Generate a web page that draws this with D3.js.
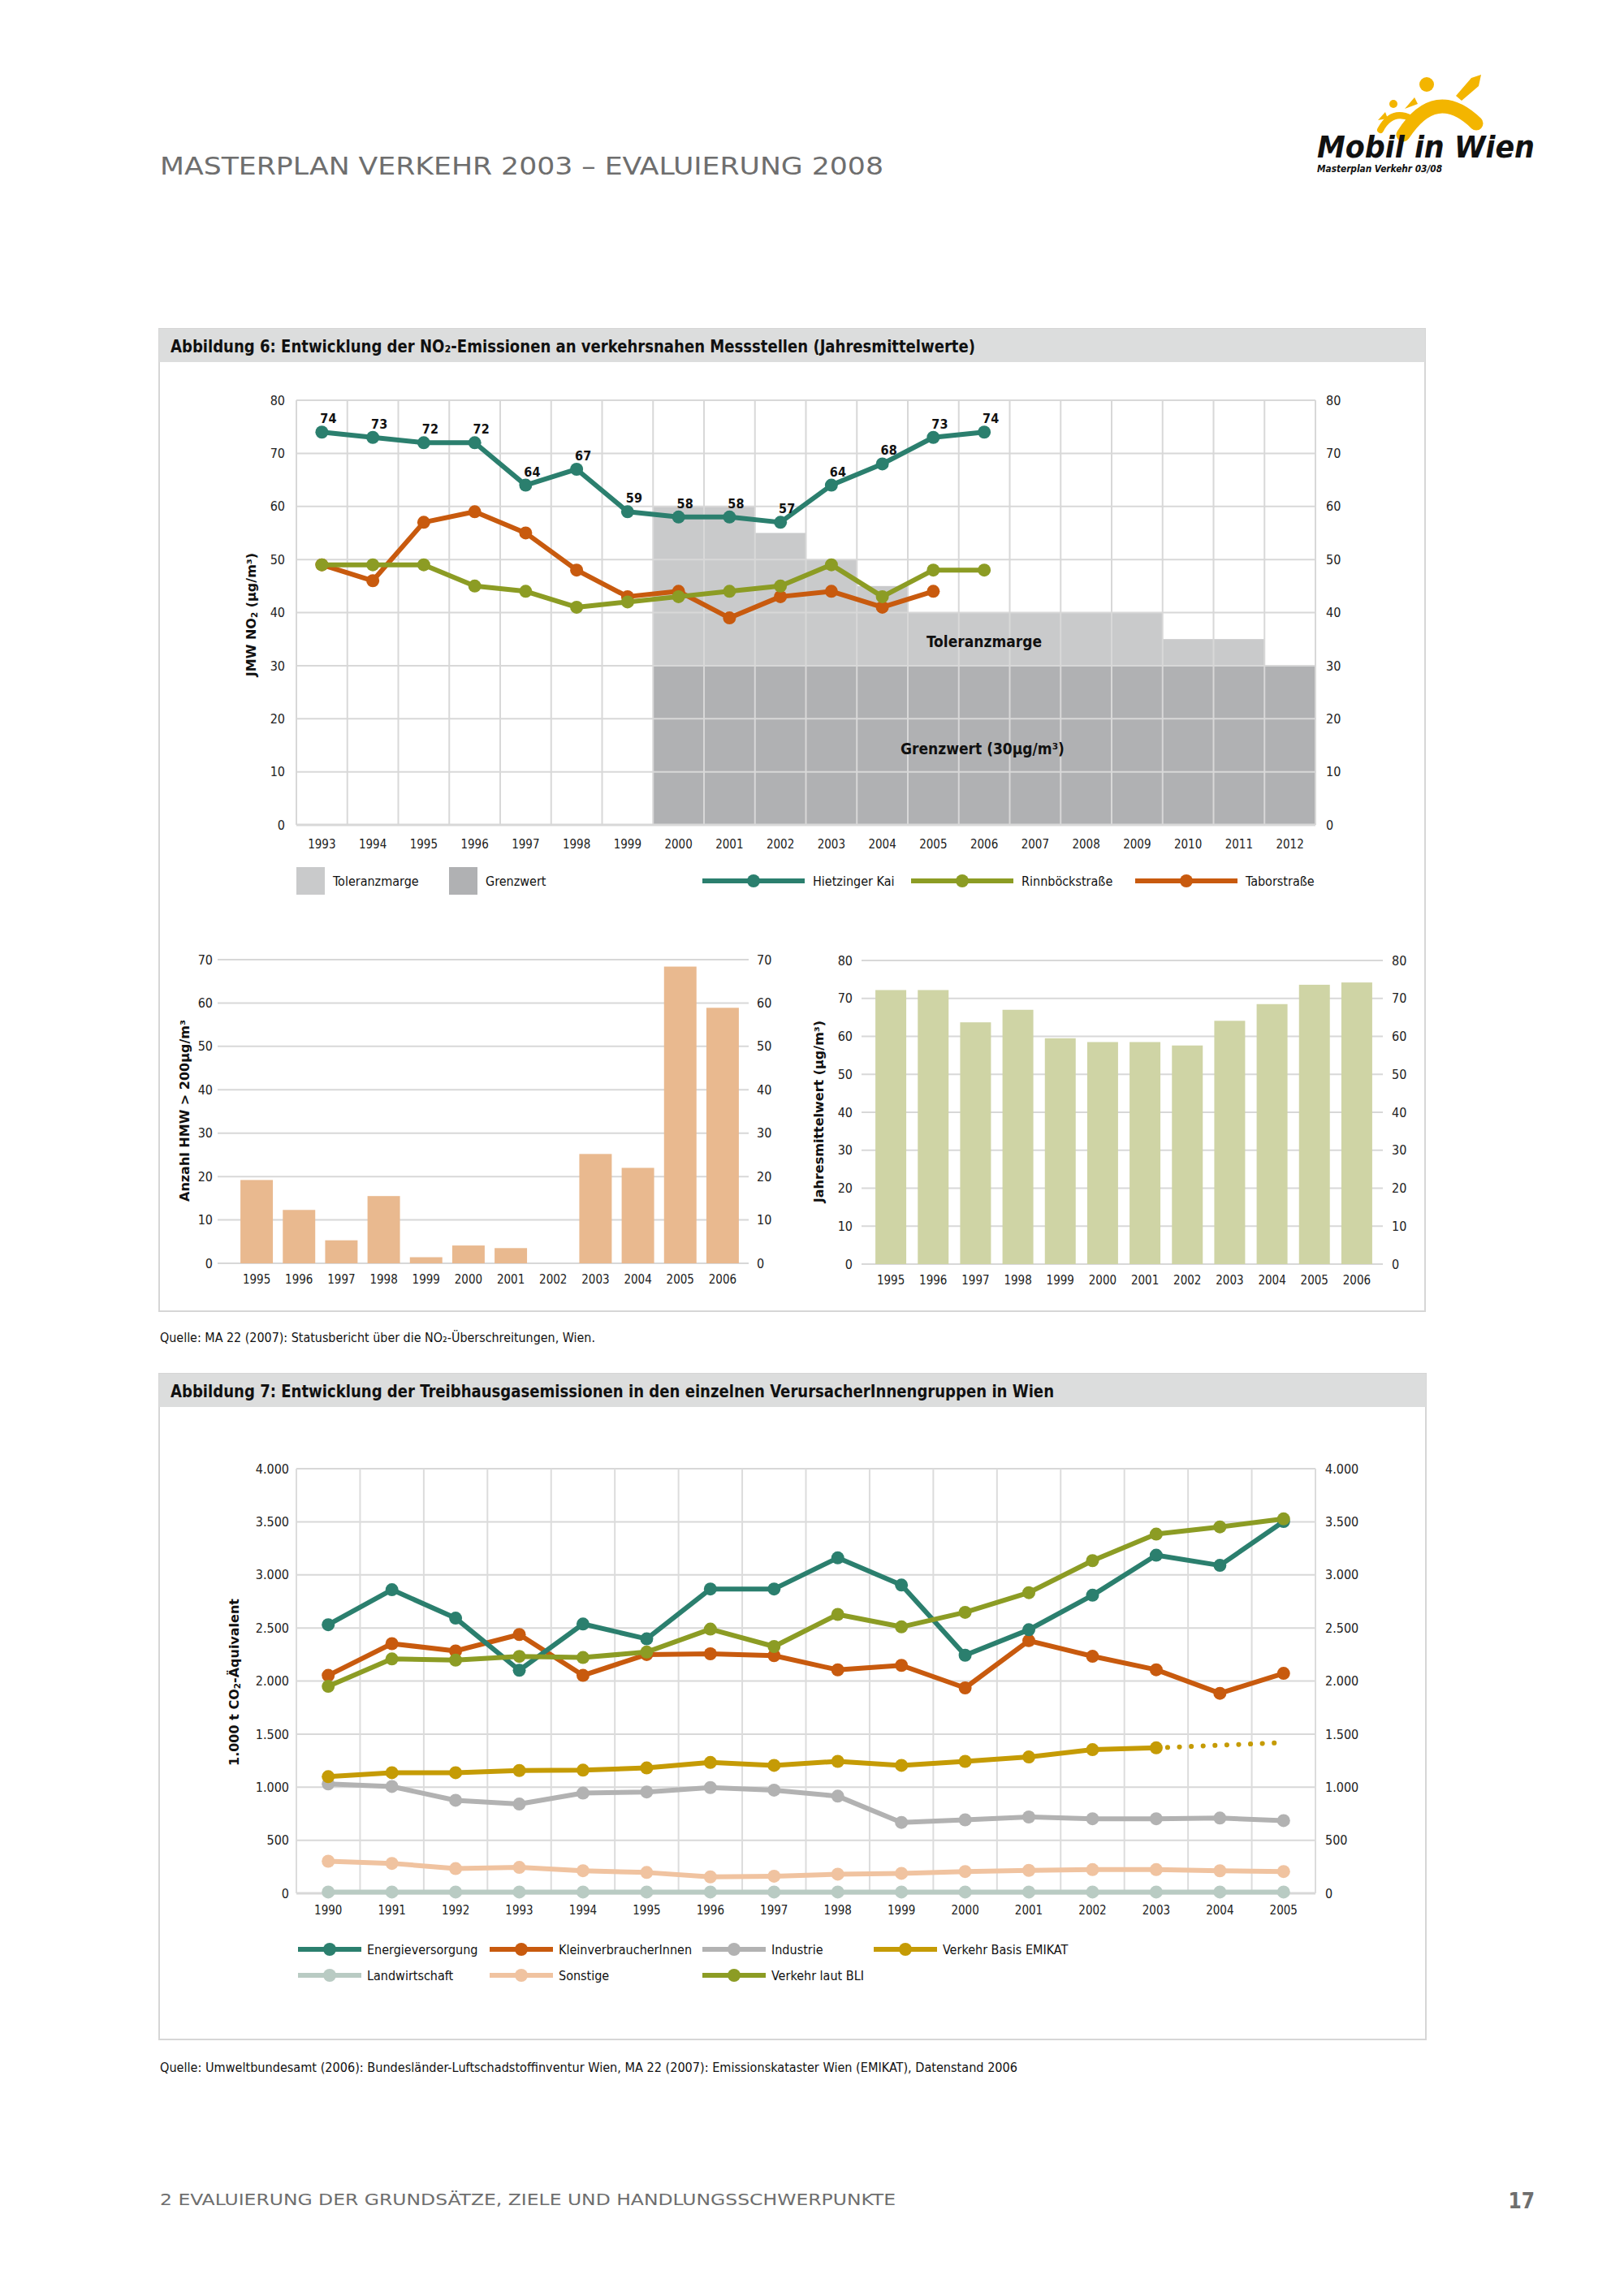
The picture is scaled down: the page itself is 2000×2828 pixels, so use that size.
<!DOCTYPE html>
<html><head><meta charset="utf-8">
<script src="https://cdn.jsdelivr.net/npm/d3@7"></script>
<style>body{margin:0;background:#fff;}</style>
</head><body>
<svg id="page" width="2000" height="2828" xmlns="http://www.w3.org/2000/svg"></svg>
<script>
// ---------------- DATA ----------------
const yearsNO2 = ['1993','1994','1995','1996','1997','1998','1999','2000','2001','2002','2003','2004','2005','2006','2007','2008','2009','2010','2011','2012'];
const stationYears = ['1993','1994','1995','1996','1997','1998','1999','2000','2001','2002','2003','2004','2005','2006'];
const hietzinger = [74,73,72,72,64,67,59,58,58,57,64,68,73,74];
const rinnboeck  = [49,49,49,45,44,41,42,43,44,45,49,43,48,48];
const tabor      = [49,46,57,59,55,48,43,44,39,43,44,41,44];
const limitYears = ['2000','2001','2002','2003','2004','2005','2006','2007','2008','2009','2010','2011','2012'];
const grenzwert  = [30,30,30,30,30,30,30,30,30,30,30,30,30];
const toleranzmarge = [30,30,25,20,15,10,10,10,10,10,5,5,0];
const ticksNO2 = [0,10,20,30,40,50,60,70,80];

const barYears = ['1995','1996','1997','1998','1999','2000','2001','2002','2003','2004','2005','2006'];
const anzahlHMW = [19.2,12.3,5.3,15.5,1.4,4.1,3.5,0,25.2,22,68.4,58.9];
const ticksHMW = [0,10,20,30,40,50,60,70];
const jahresmittel = [72.2,72.2,63.7,67,59.5,58.5,58.5,57.6,64.1,68.5,73.6,74.2];
const ticksJMW = [0,10,20,30,40,50,60,70,80];

const ghgYears = ['1990','1991','1992','1993','1994','1995','1996','1997','1998','1999','2000','2001','2002','2003','2004','2005'];
const energie   = [2530,2860,2592,2101,2537,2397,2867,2867,3160,2904,2243,2483,2808,3185,3089,3503];
const klein     = [2053,2352,2283,2438,2053,2249,2256,2239,2105,2147,1935,2380,2233,2106,1884,2072];
const industrie = [1030,1006,876,841,944,955,996,972,915,668,692,719,702,702,709,685];
const emikat    = [1099,1136,1136,1157,1160,1181,1233,1205,1243,1205,1243,1284,1353,1370];
const emikatProgYears = ['2003','2005'];
const emikatProg = [1370,1420];
const landwirtschaft = [12,12,12,12,12,12,12,12,12,12,12,12,12,12,12,12];
const sonstige  = [302,282,233,244,213,196,155,161,180,188,205,216,223,223,212,205];
const bli       = [1950,2208,2197,2232,2221,2273,2489,2325,2627,2510,2647,2832,3134,3384,3452,3527];
const ticksGHG = [0,500,1000,1500,2000,2500,3000,3500,4000];

// ---------------- STYLE ----------------
const FONT = '"Liberation Sans Narrow","DejaVu Sans Condensed","Roboto Condensed",sans-serif';
const FONT_WIDE = '"DejaVu Sans","Verdana",sans-serif';
const C = {teal:'#2b7f6e', olive:'#8c9c24', orange:'#c85a0e', gold:'#c59b05', gray:'#b2b2b2',
  peach:'#f0c3a0', agri:'#b9cbc3', tol:'#c9cacb', gw:'#b0b1b3', grid:'#dadada', titleBar:'#dcdddd',
  bar1:'#e9b98f', bar2:'#cfd4a5', text:'#1a1a1a'};

const svg = d3.select('#page');
svg.append('rect').attr('width',2000).attr('height',2828).attr('fill','#fff');

// rich text helper: parts [{t, sub}]
function addParts(t, parts, size, shift){
  let pending = 0;
  parts.forEach(p=>{
    const s = t.append('tspan').text(p.t);
    if(p.sub){ s.attr('font-size',size*0.65).attr('dy',shift + pending); pending = -shift; }
    else if(pending){ s.attr('dy',pending); pending = 0; }
  });
}

// ---------------- HEADER / FOOTER ----------------
svg.append('text').attr('x',197).attr('y',215).attr('font-family',FONT).attr('font-size',30)
  .attr('fill','#6e6e6e').attr('textLength',891).attr('lengthAdjust','spacingAndGlyphs')
  .text('MASTERPLAN VERKEHR 2003 – EVALUIERUNG 2008');

// logo
const logo = svg.append('g');
const Y = '#f3b500';
logo.append('path').attr('d','M1728,166 Q1768,104 1818,152').attr('fill','none').attr('stroke',Y).attr('stroke-width',17).attr('stroke-linecap','round');
logo.append('circle').attr('cx',1757).attr('cy',104).attr('r',9).attr('fill',Y);
logo.append('path').attr('d','M1793,118 L1812,96 L1824,92 L1821,106 L1800,124 Z').attr('fill',Y);
logo.append('path').attr('d','M1700,160 Q1714,134 1738,146').attr('fill','none').attr('stroke',Y).attr('stroke-width',8).attr('stroke-linecap','round');
logo.append('circle').attr('cx',1716).attr('cy',128).attr('r',5).attr('fill',Y);
logo.append('path').attr('d','M1730,134 L1742,120 L1746,128 Z').attr('fill',Y);
logo.append('path').attr('d','M1697,148 L1706,138 L1709,146 Z').attr('fill',Y);
logo.append('text').attr('x',1622).attr('y',194).attr('font-family',FONT).attr('font-size',38)
  .attr('font-weight','bold').attr('font-style','italic').attr('fill','#111')
  .attr('textLength',268).attr('lengthAdjust','spacingAndGlyphs').text('Mobil in Wien');
logo.append('text').attr('x',1622).attr('y',212).attr('font-family',FONT).attr('font-size',12)
  .attr('font-weight','bold').attr('font-style','italic').attr('fill','#111')
  .attr('textLength',154).attr('lengthAdjust','spacingAndGlyphs').text('Masterplan Verkehr 03/08');

svg.append('text').attr('x',197).attr('y',2716).attr('font-family',FONT).attr('font-size',20)
  .attr('fill','#6e6e6e').attr('textLength',906).attr('lengthAdjust','spacingAndGlyphs')
  .text('2 EVALUIERUNG DER GRUNDSÄTZE, ZIELE UND HANDLUNGSSCHWERPUNKTE');
svg.append('text').attr('x',1890).attr('y',2720).attr('text-anchor','end').attr('font-family',FONT)
  .attr('font-size',26).attr('font-weight','bold').attr('fill','#6e6e6e').text('17');

// ---------------- helpers ----------------
function frame(x0,y0,x1,y1,title,titleLen){
  svg.append('rect').attr('x',x0).attr('y',y0).attr('width',x1-x0).attr('height',y1-y0)
    .attr('fill','#fff').attr('stroke','#d6d6d6').attr('stroke-width',2);
  svg.append('rect').attr('x',x0).attr('y',y0).attr('width',x1-x0).attr('height',41).attr('fill',C.titleBar);
  svg.append('text').attr('x',210).attr('y',y0+29).attr('font-family',FONT).attr('font-size',22)
    .attr('font-weight','bold').attr('fill','#111').attr('textLength',titleLen).attr('lengthAdjust','spacingAndGlyphs')
    .text(title);
}
function yTitle(x,y,parts,size){
  const t = svg.append('text').attr('transform',`translate(${x},${y}) rotate(-90)`).attr('text-anchor','middle')
    .attr('dominant-baseline','middle').attr('font-family',FONT_WIDE).attr('font-weight','bold')
    .attr('font-size',size).attr('fill','#111');
  addParts(t,parts,size,4);
}
function styleAxis(g,size){
  g.select('.domain').remove();
  g.attr('font-family',FONT).attr('font-size',size);
  g.selectAll('text').attr('fill','#222');
}

// ================= ABBILDUNG 6 =================
frame(196,405,1755,1615,'Abbildung 6: Entwicklung der NO₂-Emissionen an verkehrsnahen Messstellen (Jahresmittelwerte)',991);

const x1 = d3.scaleBand().domain(yearsNO2).range([365,1620]);
const y1 = d3.scaleLinear().domain([0,80]).range([1016,493]);
const g1 = svg.append('g');

g1.selectAll('rect.gw').data(limitYears).join('rect').attr('class','gw')
  .attr('x',d=>x1(d)).attr('width',x1.bandwidth())
  .attr('y',(d,i)=>y1(grenzwert[i])).attr('height',(d,i)=>y1(0)-y1(grenzwert[i])).attr('fill',C.gw);
g1.selectAll('rect.tm').data(limitYears).join('rect').attr('class','tm')
  .attr('x',d=>x1(d)).attr('width',x1.bandwidth())
  .attr('y',(d,i)=>y1(grenzwert[i]+toleranzmarge[i])).attr('height',(d,i)=>y1(grenzwert[i])-y1(grenzwert[i]+toleranzmarge[i])).attr('fill',C.tol);

// grid
g1.selectAll('line.h').data(ticksNO2).join('line').attr('class','h')
  .attr('x1',365).attr('x2',1620).attr('y1',d=>y1(d)).attr('y2',d=>y1(d))
  .attr('stroke','#d8d8d8').attr('stroke-width',d=>d===0?3:2);
const vb = yearsNO2.map(d=>x1(d)).concat([x1.range()[1]]);
g1.selectAll('line.v').data(vb).join('line').attr('class','v')
  .attr('x1',d=>d).attr('x2',d=>d).attr('y1',y1(80)).attr('y2',y1(0))
  .attr('stroke','#d8d8d8').attr('stroke-width',2);

styleAxis(g1.append('g').attr('transform','translate(351,0)').call(d3.axisLeft(y1).tickValues(ticksNO2).tickSize(0).tickPadding(0)),16);
styleAxis(g1.append('g').attr('transform','translate(1633,0)').call(d3.axisRight(y1).tickValues(ticksNO2).tickSize(0).tickPadding(0)),16);
styleAxis(g1.append('g').attr('transform',`translate(0,${y1(0)})`).call(d3.axisBottom(x1).tickSize(0).tickPadding(18)),15);

g1.append('text').attr('x',1212).attr('y',797).attr('text-anchor','middle').attr('font-family',FONT)
  .attr('font-size',19).attr('font-weight','bold').attr('fill','#111').text('Toleranzmarge');
g1.append('text').attr('x',1210).attr('y',929).attr('text-anchor','middle').attr('font-family',FONT)
  .attr('font-size',19).attr('font-weight','bold').attr('fill','#111').text('Grenzwert (30µg/m³)');

const cx1 = d=>x1(d)+x1.bandwidth()/2;
const line1 = d3.line().x(d=>cx1(d[0])).y(d=>y1(d[1]));
function station(vals,color){
  const pts = vals.map((v,i)=>[stationYears[i],v]);
  g1.append('path').datum(pts).attr('d',line1).attr('fill','none').attr('stroke',color)
    .attr('stroke-width',6).attr('stroke-linejoin','round');
  g1.append('g').selectAll('circle').data(pts).join('circle').attr('cx',d=>cx1(d[0])).attr('cy',d=>y1(d[1]))
    .attr('r',8).attr('fill',color);
  return pts;
}
const hPts = station(hietzinger,C.teal);
station(tabor,C.orange);
station(rinnboeck,C.olive);
g1.append('g').selectAll('text').data(hPts).join('text').attr('x',d=>cx1(d[0])+8).attr('y',d=>y1(d[1])-11)
  .attr('text-anchor','middle').attr('font-family',FONT).attr('font-size',16).attr('font-weight','bold')
  .attr('fill','#111').text(d=>d[1]);

// legend 1
const leg1 = svg.append('g').attr('font-family',FONT).attr('font-size',16).attr('fill','#111');
[[365,C.tol,'Toleranzmarge'],[553,C.gw,'Grenzwert']].forEach(([x,c,t])=>{
  leg1.append('rect').attr('x',x).attr('y',1068).attr('width',35).attr('height',34).attr('fill',c);
  leg1.append('text').attr('x',x+45).attr('y',1091).text(t);
});
[[865,C.teal,'Hietzinger Kai'],[1122,C.olive,'Rinnböckstraße'],[1398,C.orange,'Taborstraße']].forEach(([x,c,t])=>{
  leg1.append('line').attr('x1',x).attr('x2',x+126).attr('y1',1085).attr('y2',1085).attr('stroke',c).attr('stroke-width',6);
  leg1.append('circle').attr('cx',x+63).attr('cy',1085).attr('r',8).attr('fill',c);
  leg1.append('text').attr('x',x+136).attr('y',1091).text(t);
});
yTitle(310,757,[{t:'JMW NO'},{t:'2',sub:true},{t:' (µg/m³)'}],16);

// ---- bar chart left
const xb1 = d3.scaleBand().domain(barYears).range([290,916]).paddingInner(0.234).paddingOuter(0.117);
const yb1 = d3.scaleLinear().domain([0,70]).range([1556,1182]);
const gb1 = svg.append('g');
gb1.selectAll('line').data(ticksHMW).join('line').attr('x1',268).attr('x2',922)
  .attr('y1',d=>yb1(d)).attr('y2',d=>yb1(d)).attr('stroke','#d8d8d8').attr('stroke-width',2);
gb1.selectAll('rect').data(anzahlHMW).join('rect').attr('x',(d,i)=>xb1(barYears[i])).attr('width',xb1.bandwidth())
  .attr('y',d=>yb1(d)).attr('height',d=>yb1(0)-yb1(d)).attr('fill',C.bar1);
styleAxis(gb1.append('g').attr('transform','translate(262,0)').call(d3.axisLeft(yb1).tickValues(ticksHMW).tickSize(0).tickPadding(0)),16);
styleAxis(gb1.append('g').attr('transform','translate(932,0)').call(d3.axisRight(yb1).tickValues(ticksHMW).tickSize(0).tickPadding(0)),16);
styleAxis(gb1.append('g').attr('transform',`translate(0,${yb1(0)})`).call(d3.axisBottom(xb1).tickSize(0).tickPadding(14)),15);
yTitle(228,1368,[{t:'Anzahl HMW > 200µg/m³'}],16);

// ---- bar chart right
const xb2 = d3.scaleBand().domain(barYears).range([1071,1697]).paddingInner(0.272).paddingOuter(0.136);
const yb2 = d3.scaleLinear().domain([0,80]).range([1557,1183]);
const gb2 = svg.append('g');
gb2.selectAll('line').data(ticksJMW).join('line').attr('x1',1061).attr('x2',1703)
  .attr('y1',d=>yb2(d)).attr('y2',d=>yb2(d)).attr('stroke','#d8d8d8').attr('stroke-width',2);
gb2.selectAll('rect').data(jahresmittel).join('rect').attr('x',(d,i)=>xb2(barYears[i])).attr('width',xb2.bandwidth())
  .attr('y',d=>yb2(d)).attr('height',d=>yb2(0)-yb2(d)).attr('fill',C.bar2);
styleAxis(gb2.append('g').attr('transform','translate(1050,0)').call(d3.axisLeft(yb2).tickValues(ticksJMW).tickSize(0).tickPadding(0)),16);
styleAxis(gb2.append('g').attr('transform','translate(1714,0)').call(d3.axisRight(yb2).tickValues(ticksJMW).tickSize(0).tickPadding(0)),16);
styleAxis(gb2.append('g').attr('transform',`translate(0,${yb2(0)})`).call(d3.axisBottom(xb2).tickSize(0).tickPadding(14)),15);
yTitle(1009,1369,[{t:'Jahresmittelwert (µg/m³)'}],16);

// source 1
svg.append('text').attr('x',197).attr('y',1653).attr('font-family',FONT).attr('font-size',15)
  .attr('fill','#111').attr('textLength',536).attr('lengthAdjust','spacingAndGlyphs')
  .text('Quelle: MA 22 (2007): Statusbericht über die NO₂-Überschreitungen, Wien.');

// ================= ABBILDUNG 7 =================
frame(196,1692,1756,2512,'Abbildung 7: Entwicklung der Treibhausgasemissionen in den einzelnen VerursacherInnengruppen in Wien',1088);

const x2 = d3.scaleBand().domain(ghgYears).range([365,1620]);
const y2 = d3.scaleLinear().domain([0,4000]).range([2332,1809]);
const g2 = svg.append('g');
const de = d3.formatLocale({decimal:',',thousands:'.',grouping:[3],currency:['','€']}).format(',');
g2.selectAll('line.h').data(ticksGHG).join('line').attr('class','h').attr('x1',365).attr('x2',1620)
  .attr('y1',d=>y2(d)).attr('y2',d=>y2(d)).attr('stroke','#d8d8d8').attr('stroke-width',d=>d===0?3:2);
const vb2 = ghgYears.map(d=>x2(d)).concat([x2.range()[1]]);
g2.selectAll('line.v').data(vb2).join('line').attr('class','v').attr('x1',d=>d).attr('x2',d=>d)
  .attr('y1',y2(4000)).attr('y2',y2(0)).attr('stroke','#dcdcdc').attr('stroke-width',2);
styleAxis(g2.append('g').attr('transform','translate(356,0)').call(d3.axisLeft(y2).tickValues(ticksGHG).tickFormat(de).tickSize(0).tickPadding(0)),16);
styleAxis(g2.append('g').attr('transform','translate(1632,0)').call(d3.axisRight(y2).tickValues(ticksGHG).tickFormat(de).tickSize(0).tickPadding(0)),16);
styleAxis(g2.append('g').attr('transform',`translate(0,${y2(0)})`).call(d3.axisBottom(x2).tickSize(0).tickPadding(15)),15);

const cx2 = d=>x2(d)+x2.bandwidth()/2;
const line2 = d3.line().x(d=>cx2(d[0])).y(d=>y2(d[1]));
function series(vals,color,yrs){
  const pts = vals.map((v,i)=>[(yrs||ghgYears)[i],v]);
  g2.append('path').datum(pts).attr('d',line2).attr('fill','none').attr('stroke',color)
    .attr('stroke-width',6).attr('stroke-linejoin','round');
  g2.append('g').selectAll('circle').data(pts).join('circle').attr('cx',d=>cx2(d[0])).attr('cy',d=>y2(d[1]))
    .attr('r',8).attr('fill',color);
}
// dotted forecast
g2.append('path').datum(emikatProg.map((v,i)=>[emikatProgYears[i],v])).attr('d',line2)
  .attr('fill','none').attr('stroke',C.gold).attr('stroke-width',6).attr('stroke-linecap','round')
  .attr('stroke-dasharray','0.1 14.5').attr('stroke-dashoffset',-14);
series(landwirtschaft,C.agri);
series(sonstige,C.peach);
series(industrie,C.gray);
series(emikat,C.gold);
series(klein,C.orange);
series(energie,C.teal);
series(bli,C.olive);

const leg2 = svg.append('g').attr('font-family',FONT).attr('font-size',16).attr('fill','#111');
[[367,2401,C.teal,'Energieversorgung'],[603,2401,C.orange,'KleinverbraucherInnen'],[865,2401,C.gray,'Industrie'],
 [1076,2401,C.gold,'Verkehr Basis EMIKAT'],[367,2433,C.agri,'Landwirtschaft'],[603,2433,C.peach,'Sonstige'],
 [865,2433,C.olive,'Verkehr laut BLI']].forEach(([x,y,c,t])=>{
  leg2.append('line').attr('x1',x).attr('x2',x+78).attr('y1',y).attr('y2',y).attr('stroke',c).attr('stroke-width',6);
  leg2.append('circle').attr('cx',x+39).attr('cy',y).attr('r',8).attr('fill',c);
  leg2.append('text').attr('x',x+85).attr('y',y+6).text(t);
});
yTitle(289,2072,[{t:'1.000 t CO'},{t:'2',sub:true},{t:'-Äquivalent'}],16);

svg.append('text').attr('x',197).attr('y',2552).attr('font-family',FONT).attr('font-size',15)
  .attr('fill','#111').attr('textLength',1056).attr('lengthAdjust','spacingAndGlyphs')
  .text('Quelle: Umweltbundesamt (2006): Bundesländer-Luftschadstoffinventur Wien, MA 22 (2007): Emissionskataster Wien (EMIKAT), Datenstand 2006');
</script>
</body></html>
